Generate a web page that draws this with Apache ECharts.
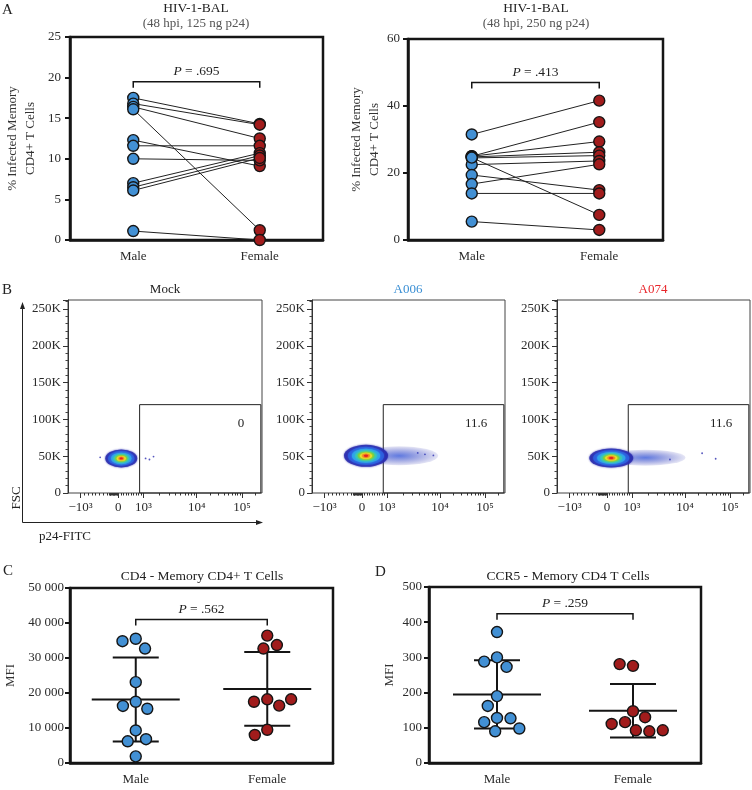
<!DOCTYPE html>
<html>
<head>
<meta charset="utf-8">
<title>HIV-1-BAL infection of memory CD4+ T cells by sex</title>
<script src="https://cdn.jsdelivr.net/npm/echarts@6/dist/echarts.min.js"></script>
<style>
  html, body { margin: 0; padding: 0; background: #fff; }
  #chart { width: 752px; height: 790px; }
</style>
</head>
<body>
<div id="chart"></div>
<script>
var groups = ['Male', 'Female'];

// panel A, paired donors (male -> female), % infected memory CD4+ T cells
var bal125Male   = [17.5, 16.8, 16.4, 16.1, 12.3, 11.6, 10.0, 7.0, 6.5, 6.1, 1.1];
var bal125Female = [14.3, 14.2, 12.5, 1.2, 9.1, 11.6, 9.8, 10.7, 10.4, 10.1, 0.0];
var bal250Male   = [31.5, 25.0, 25.0, 24.8, 24.5, 22.5, 24.6, 19.4, 16.7, 13.9, 5.5];
var bal250Female = [41.6, 35.2, 29.4, 26.2, 25.2, 23.6, 7.5, 14.9, 22.6, 13.9, 3.0];

// panels C and D, MFI per donor
var cd4Male    = [35500, 34800, 32700, 23100, 17500, 16300, 15500, 9300, 6200, 6800, 1900];
var cd4Female  = [36400, 32700, 33700, 18200, 17500, 16400, 18200, 9500, 8000];
var ccr5Male   = [372, 300, 288, 273, 190, 162, 128, 116, 127, 90, 98];
var ccr5Female = [276, 281, 147, 116, 130, 111, 93, 90, 93];

var pValues = ['.695', '.413', '.562', '.259'];
var bracketLevels = [19.5, 47, 41000, 424];

// panel B, p24-FITC vs FSC
var flowNames = ['Mock', 'A006', 'A074'];
var gateFreqs = ['0', '11.6', '11.6'];
var gateP24 = [850, 262144];
var gateFsc = [0, 120000];
var p24Ticks = [-1000, 0, 1000, 10000, 100000];
var p24TickText = ['\u221210\u00b3', '0', '10\u00b3', '10\u2074', '10\u2075'];
var fscMax = 262144;
// centre of the main cell cloud and of the p24+ tail [p24, FSC]
var mainCloud = [[120, 47000], [160, 50500], [170, 47500]];
var tailCloud = [null, [1700, 50500], [1800, 48000]];
var strayEvents = [
  [[-480, 48500], [1100, 47000], [1550, 49500], [1300, 45500]],
  [[5200, 52500], [7500, 51000], [3800, 54500]],
  [[24000, 54000], [48000, 46500], [5200, 45500]]
];

var FONT = '"Liberation Serif", "DejaVu Serif", serif';
var INK = '#151515';
var BLUE = '#4290d4';
var RED = '#a11c1c';
var LABEL = {fontFamily: FONT, fontSize: 13, color: '#2a2a2a'};

// biexponential-like display scale for the p24 axis
function biex(v) {
    if (v < 0) return 2.5 + 0.75 * v / 1000;
    if (v < 1000) return 2.5 + 0.5 * v / 1000;
    if (v < 10000) return 3 + 1.06 * Math.log10(v / 1000);
    return 4.06 + 0.9 * Math.log10(v / 10000);
}
var p24Minor = [];
for (var k = -900; k <= 900; k += 100) if (k !== 0) p24Minor.push(k);
for (k = -240; k < 0; k += 20) p24Minor.push(k);
[1000, 10000, 100000].forEach(function (dec) {
    for (var m = 2; m <= 9; m++) if (dec * m < 262144) p24Minor.push(dec * m);
});

function mean(a) { return a.reduce(function (s, v) { return s + v; }, 0) / a.length; }
function sd(a) {
    var m = mean(a);
    return Math.sqrt(a.reduce(function (s, v) { return s + (v - m) * (v - m); }, 0) / (a.length - 1));
}

function catAxis(gridIndex, extra) {
    return Object.assign({
        type: 'category', gridIndex: gridIndex, data: groups,
        axisLine: {lineStyle: {color: INK, width: 2.5}},
        axisTick: {alignWithLabel: true, length: 5, lineStyle: {color: INK, width: 2}},
        axisLabel: Object.assign({margin: 10}, LABEL),
        splitLine: {show: false}
    }, extra || {});
}
function valAxis(gridIndex, max, interval, name, gap, fmt, margin) {
    return {
        type: 'value', gridIndex: gridIndex, min: 0, max: max, interval: interval,
        name: name, nameLocation: 'middle', nameGap: gap, nameRotate: 90,
        nameTextStyle: {fontFamily: FONT, fontSize: 13, color: '#333', lineHeight: 18},
        axisLine: {show: true, lineStyle: {color: INK, width: 2.5}},
        axisTick: {show: true, length: 5, lineStyle: {color: INK, width: 2}},
        axisLabel: Object.assign({margin: margin, formatter: fmt}, LABEL),
        splitLine: {show: false}
    };
}
var heavyBox = {show: true, borderColor: INK, borderWidth: 2.5, backgroundColor: 'transparent'};
var thinBox = {show: true, borderColor: '#444', borderWidth: 1, backgroundColor: 'transparent'};

var grids = [
    Object.assign({left: 70, top: 37, width: 253, height: 203}, heavyBox),
    Object.assign({left: 408, top: 39, width: 255, height: 201}, heavyBox),
    Object.assign({left: 68, top: 300, width: 194, height: 193}, thinBox),
    Object.assign({left: 312, top: 300, width: 193, height: 193}, thinBox),
    Object.assign({left: 557, top: 300, width: 193, height: 193}, thinBox),
    Object.assign({left: 70, top: 588, width: 263, height: 175}, heavyBox),
    Object.assign({left: 429, top: 587, width: 272, height: 176}, heavyBox)
];

var xAxes = [catAxis(0), catAxis(1)];
var yAxes = [
    valAxis(0, 25, 5, '% Infected Memory\nCD4+ T Cells', 30, null, 9),
    valAxis(1, 60, 20, '% Infected Memory\nCD4+ T Cells', 24, null, 8)
];
// flow axes
[2, 3, 4].forEach(function (g) {
    xAxes.push({
        type: 'value', gridIndex: g, position: 'bottom', min: 1.5, max: 5.36,
        axisLine: {show: false}, splitLine: {show: false},
        axisTick: {show: true, length: 5, lineStyle: {color: '#333'}, customValues: p24Ticks.map(biex)},
        axisLabel: Object.assign({}, LABEL, {
            margin: 8, customValues: p24Ticks.map(biex),
            formatter: function (v) {
                for (var i = 0; i < p24Ticks.length; i++) if (Math.abs(biex(p24Ticks[i]) - v) < 1e-6) return p24TickText[i];
                return '';
            }
        })
    });
    yAxes.push({
        type: 'value', gridIndex: g, min: 0, max: fscMax, interval: 50000,
        axisLine: {show: true, lineStyle: {color: '#333', width: 1}},
        axisTick: {show: true, length: 5, lineStyle: {color: '#333'}},
        minorTick: {show: true, splitNumber: 5, length: 2.5, lineStyle: {color: '#444'}},
        splitLine: {show: false}, minorSplitLine: {show: false},
        axisLabel: Object.assign({}, LABEL, {
            margin: 7, showMaxLabel: false,
            formatter: function (v) { return v > 250000 ? '' : (v === 0 ? '0' : v / 1000 + 'K'); }
        })
    });
});
[2, 3, 4].forEach(function (g) {
    xAxes.push({
        type: 'value', gridIndex: g, position: 'bottom', min: 1.5, max: 5.36,
        axisLine: {show: false}, splitLine: {show: false}, axisLabel: {show: false},
        axisTick: {show: true, length: 2.5, lineStyle: {color: '#333'}, customValues: p24Minor.map(biex)}
    });
});
function thousands(v) { return String(v).replace(/(\d)(?=(\d{3})+$)/g, '$1 '); }
xAxes.push(catAxis(5, {jitter: 90, jitterOverlap: false, jitterMargin: 2.5}));
xAxes.push(catAxis(6, {jitter: 90, jitterOverlap: false, jitterMargin: 2.5}));
yAxes.push(valAxis(5, 50000, 10000, 'MFI', 50, thousands, 6));
yAxes.push(valAxis(6, 500, 100, 'MFI', 30, null, 7));

var series = [];

function pairLines(male, female, axis) {
    male.forEach(function (m, i) {
        series.push({
            type: 'line', xAxisIndex: axis, yAxisIndex: axis, data: [m, female[i]],
            symbol: 'none', silent: true, z: 2, lineStyle: {color: '#222', width: 1}
        });
    });
}
function dots(values, group, color, xi, yi) {
    series.push({
        type: 'scatter', xAxisIndex: xi, yAxisIndex: yi, z: 4, silent: true,
        data: values.map(function (v) { return [group, v]; }),
        symbolSize: 11,
        itemStyle: {color: color, borderColor: INK, borderWidth: 1.4, opacity: 1}
    });
}
function bracket(xi, yi, level, p) {
    series.push({
        type: 'custom', xAxisIndex: xi, yAxisIndex: yi, silent: true, z: 5,
        data: [[0, level]],
        renderItem: function (params, api) {
            var a = api.coord([0, api.value(1)]);
            var b = api.coord([1, api.value(1)]);
            return {type: 'group', children: [
                {type: 'polyline', shape: {points: [[a[0], a[1] + 6], a, b, [b[0], b[1] + 6]]},
                 style: {stroke: INK, lineWidth: 1.5, fill: null}},
                {type: 'text', x: (a[0] + b[0]) / 2, y: a[1] - 10,
                 style: {text: '{i|P} = ' + p, align: 'center', verticalAlign: 'middle',
                         font: '13.5px ' + FONT, fill: '#222',
                         rich: {i: {fontStyle: 'italic', fontFamily: FONT, fontSize: 13.5, fill: '#222'}}}}
            ]};
        }
    });
}
function errorBars(xi, yi, male, female) {
    var rows = [male, female].map(function (vals, k) {
        var m = mean(vals), s = sd(vals);
        return [k, m, m - s, m + s];
    });
    series.push({
        type: 'custom', xAxisIndex: xi, yAxisIndex: yi, silent: true, z: 3,
        data: rows, encode: {x: 0, y: [1, 2, 3]},
        renderItem: function (params, api) {
            var c = api.coord([api.value(0), api.value(1)]);
            var lo = api.coord([api.value(0), api.value(2)]);
            var hi = api.coord([api.value(0), api.value(3)]);
            var st = {stroke: INK, lineWidth: 2};
            return {type: 'group', children: [
                {type: 'line', shape: {x1: c[0] - 44, y1: c[1], x2: c[0] + 44, y2: c[1]}, style: st},
                {type: 'line', shape: {x1: lo[0], y1: lo[1], x2: hi[0], y2: hi[1]}, style: st},
                {type: 'line', shape: {x1: lo[0] - 23, y1: lo[1], x2: lo[0] + 23, y2: lo[1]}, style: st},
                {type: 'line', shape: {x1: hi[0] - 23, y1: hi[1], x2: hi[0] + 23, y2: hi[1]}, style: st}
            ]};
        }
    });
}

// A
pairLines(bal125Male, bal125Female, 0);
pairLines(bal250Male, bal250Female, 1);
dots(bal125Male, 'Male', BLUE, 0, 0);
dots(bal125Female, 'Female', RED, 0, 0);
dots(bal250Male, 'Male', BLUE, 1, 1);
dots(bal250Female, 'Female', RED, 1, 1);
bracket(0, 0, bracketLevels[0], pValues[0]);
bracket(1, 1, bracketLevels[1], pValues[1]);

// B
var cloudColors = ['#2a2cae', '#2d5ede', '#2fa3ea', '#36c8b8', '#79cf3f', '#e9e12a', '#f59320', '#e42420'];
var cloudScale = [1, 0.82, 0.64, 0.5, 0.38, 0.28, 0.18, 0.1];
var cloudSize = [[32, 18], [44, 22], [44, 19]];
var tailSize = [null, [78, 19], [80, 16]];
function radial(inner, outer) {
    return {type: 'radial', x: 0.5, y: 0.5, r: 0.5,
            colorStops: [{offset: 0, color: inner}, {offset: 1, color: outer}]};
}
flowNames.forEach(function (name, i) {
    var ax = 2 + i;
    series.push({
        type: 'scatter', xAxisIndex: ax, yAxisIndex: ax, silent: true, z: 2,
        data: strayEvents[i].map(function (e) { return [biex(e[0]), e[1]]; }),
        symbolSize: 1.8, itemStyle: {color: '#2a2cae'},
        markArea: {
            silent: true,
            itemStyle: {color: 'rgba(0,0,0,0)', borderColor: '#222', borderWidth: 1},
            label: {show: true, position: 'insideTopRight', offset: [-12, 8],
                    fontFamily: FONT, fontSize: 13, color: '#222', formatter: gateFreqs[i]},
            data: [[{coord: [biex(gateP24[0]), gateFsc[0]]}, {coord: [biex(gateP24[1]), gateFsc[1]]}]]
        }
    });
    if (tailCloud[i]) {
        series.push({
            type: 'scatter', xAxisIndex: ax, yAxisIndex: ax, silent: true, z: 2,
            data: [[biex(tailCloud[i][0]), tailCloud[i][1]]],
            symbolSize: tailSize[i],
            itemStyle: {color: radial('rgba(45,80,215,0.95)', 'rgba(40,44,174,0.15)')}
        });
    }
    cloudColors.forEach(function (col, L) {
        series.push({
            type: 'scatter', xAxisIndex: ax, yAxisIndex: ax, silent: true, z: 3,
            data: [[biex(mainCloud[i][0]), mainCloud[i][1]]],
            symbolSize: [cloudSize[i][0] * cloudScale[L], cloudSize[i][1] * cloudScale[L]],
            itemStyle: {color: col, opacity: L === 0 ? 0.85 : 1, shadowBlur: 2, shadowColor: col}
        });
    });
});

// C and D
errorBars(8, 5, cd4Male, cd4Female);
errorBars(9, 6, ccr5Male, ccr5Female);
dots(cd4Male, 'Male', BLUE, 8, 5);
dots(cd4Female, 'Female', RED, 8, 5);
dots(ccr5Male, 'Male', BLUE, 9, 6);
dots(ccr5Female, 'Female', RED, 9, 6);
bracket(8, 5, bracketLevels[2], pValues[2]);
bracket(9, 6, bracketLevels[3], pValues[3]);

function label(str, x, y, opts) {
    opts = opts || {};
    return {
        type: 'text', x: x, y: y, rotation: opts.rotation || 0, silent: true,
        style: {text: str, fill: opts.color || '#222', font: (opts.size || 13) + 'px ' + FONT,
                align: opts.align || 'center', verticalAlign: 'middle'}
    };
}
var arrowStyle = {stroke: '#222', lineWidth: 1, fill: null};
var graphic = [
    label('A', 2, 10, {size: 15, align: 'left'}),
    label('HIV-1-BAL', 196, 8, {size: 13.5}),
    label('(48 hpi, 125 ng p24)', 196, 24, {color: '#555'}),
    label('HIV-1-BAL', 536, 8, {size: 13.5}),
    label('(48 hpi, 250 ng p24)', 536, 24, {color: '#555'}),
    label('B', 2, 290, {size: 15, align: 'left'}),
    label(flowNames[0], 165, 290),
    label(flowNames[1], 408, 290, {color: '#3a8fd4'}),
    label(flowNames[2], 653, 290, {color: '#e8262b'}),
    label('FSC', 17, 498, {rotation: Math.PI / 2}),
    label('p24-FITC', 65, 537),
    {type: 'polyline', silent: true, shape: {points: [[22.5, 522.5], [22.5, 308]]}, style: arrowStyle},
    {type: 'polygon', silent: true, shape: {points: [[22.5, 302], [20, 309], [25, 309]]}, style: {fill: '#222'}},
    {type: 'polyline', silent: true, shape: {points: [[22.5, 522.5], [257, 522.5]]}, style: arrowStyle},
    {type: 'polygon', silent: true, shape: {points: [[263, 522.5], [256, 520], [256, 525]]}, style: {fill: '#222'}},
    label('C', 3, 571, {size: 15, align: 'left'}),
    label('CD4 - Memory CD4+ T Cells', 202, 576, {size: 13.5}),
    label('D', 375, 572, {size: 15, align: 'left'}),
    label('CCR5 - Memory CD4 T Cells', 568, 576, {size: 13.5})
];

var chart = echarts.init(document.getElementById('chart'));
chart.setOption({
    animation: false,
    backgroundColor: '#fff',
    grid: grids,
    xAxis: xAxes,
    yAxis: yAxes,
    series: series,
    graphic: graphic
});
</script>
</body>
</html>
